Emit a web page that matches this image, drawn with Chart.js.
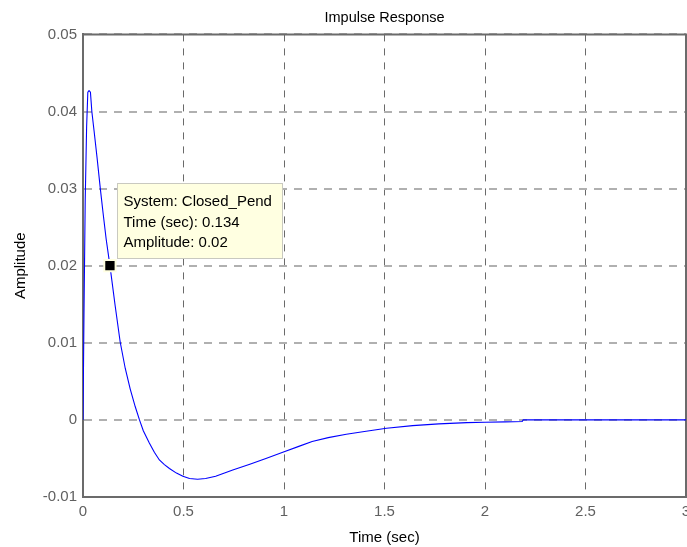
<!DOCTYPE html>
<html>
<head>
<meta charset="utf-8">
<script src="https://cdn.jsdelivr.net/npm/chart.js@4.4.1/dist/chart.umd.min.js"></script>
<style>
  html, body { margin: 0; padding: 0; background: #ffffff; }
  #wrap { width: 687px; height: 547px; position: relative; }
</style>
</head>
<body>
<div id="wrap"><canvas id="c" width="687" height="547"></canvas></div>
<script>
// ---- data ----
const chartTitle = 'Impulse Response';
const xAxisTitle = 'Time (sec)';
const yAxisTitle = 'Amplitude';
const seriesName = 'Closed_Pend';

const timeSec = [0, 0.005, 0.011, 0.018, 0.024, 0.03, 0.037, 0.044, 0.055, 0.07, 0.087, 0.1, 0.115, 0.134, 0.16, 0.185, 0.21, 0.235, 0.26, 0.281, 0.3, 0.33, 0.355, 0.38, 0.405, 0.43, 0.465, 0.497, 0.53, 0.57, 0.61, 0.66, 0.745, 0.83, 0.91, 0.994, 1.077, 1.14, 1.22, 1.31, 1.4, 1.51, 1.64, 1.77, 1.91, 2.0, 2.1, 2.185, 2.19, 2.5, 3.0];
const amplitude = [0, 0.014, 0.0285, 0.038, 0.0425, 0.0427, 0.0425, 0.040, 0.0375, 0.034, 0.0298, 0.0268, 0.0235, 0.020, 0.0148, 0.0101, 0.0067, 0.0040, 0.0017, 0.0, -0.0014, -0.0030, -0.0042, -0.0052, -0.0058, -0.0063, -0.0069, -0.0073, -0.0076, -0.0077, -0.0076, -0.0073, -0.0065, -0.00575, -0.0050, -0.0042, -0.0034, -0.0028, -0.0023, -0.00186, -0.0015, -0.00108, -0.00074, -0.00052, -0.00035, -0.0003, -0.00025, -0.0002, 0, 0, 0];

const tipTime = 0.134;
const tipAmplitude = 0.02;
const tipLines = ['System: ' + seriesName, 'Time (sec): 0.134', 'Amplitude: 0.02'];

const xTickLabels = ['0', '0.5', '1', '1.5', '2', '2.5', '3'];
const yTickLabels = ['-0.01', '0', '0.01', '0.02', '0.03', '0.04', '0.05'];

// ---- build ----
const curve = timeSec.map((t, i) => ({ x: t, y: amplitude[i] }));
const FONT = "'Liberation Sans', Arial, Helvetica, sans-serif";

function zeroSidePadding(s, horizontal) {
  if (horizontal) {
    s.paddingLeft = 0; s.paddingRight = 0;
    if (s._margins) { s._margins.left = 0; s._margins.right = 0; }
  } else {
    s.paddingTop = 0; s.paddingBottom = 0;
    if (s._margins) { s._margins.top = 0; s._margins.bottom = 0; }
  }
}

const framePlugin = {
  id: 'frame',
  beforeDatasetsDraw(chart) {
    const { ctx, chartArea: a } = chart;
    ctx.save();
    ctx.strokeStyle = '#6b6b6b';
    ctx.lineWidth = 2;
    ctx.beginPath();
    ctx.moveTo(a.left, a.top);
    ctx.lineTo(a.right, a.top);
    ctx.lineTo(a.right, a.bottom);
    ctx.stroke();
    ctx.restore();
  }
};

const dataTipPlugin = {
  id: 'datatip',
  afterDatasetsDraw(chart) {
    const { ctx, scales } = chart;
    const px = scales.x.getPixelForValue(tipTime);
    const py = scales.y.getPixelForValue(tipAmplitude);
    const left = Math.round(px + 7) + 0.5;
    const top = Math.round(py - 83) + 0.5;
    const w = 165, h = 75;
    ctx.save();
    ctx.fillStyle = '#ffffe1';
    ctx.fillRect(left, top, w, h);
    ctx.strokeStyle = '#c9c9c0';
    ctx.lineWidth = 1;
    ctx.strokeRect(left, top, w, h);
    ctx.fillStyle = '#000000';
    ctx.font = '15px ' + FONT;
    ctx.textBaseline = 'middle';
    ctx.textAlign = 'left';
    tipLines.forEach((s, i) => ctx.fillText(s, left + 6, top + 18.5 + i * 20.5));
    ctx.restore();
  }
};

new Chart(document.getElementById('c'), {
  type: 'scatter',
  data: {
    datasets: [
      {
        label: seriesName,
        data: curve,
        showLine: true,
        borderColor: '#0000ff',
        borderWidth: 1.1,
        pointRadius: 0,
        pointHoverRadius: 0,
        tension: 0,
        fill: false,
        order: 2
      },
      {
        label: 'tip',
        data: [{ x: tipTime, y: tipAmplitude }],
        showLine: false,
        pointStyle: 'rect',
        pointRadius: 8,
        backgroundColor: '#000000',
        borderColor: '#ffffe1',
        borderWidth: 2,
        order: 1
      }
    ]
  },
  options: {
    responsive: false,
    animation: false,
    devicePixelRatio: 1,
    layout: { autoPadding: false, padding: { left: 0, right: 1, top: 0, bottom: 0 } },
    plugins: {
      legend: { display: false },
      tooltip: { enabled: false },
      title: {
        display: true,
        text: chartTitle,
        fullSize: false,
        color: '#000000',
        font: { family: FONT, size: 14.5, weight: 'normal' },
        padding: { top: 9, bottom: 8 }
      }
    },
    scales: {
      x: {
        type: 'linear',
        min: 0,
        max: 3,
        afterFit(s) { s.height = 50; zeroSidePadding(s, true); },
        ticks: {
          stepSize: 0.5,
          color: '#606060',
          font: { family: FONT, size: 15 },
          padding: 6,
          maxRotation: 0,
          autoSkip: false,
          callback: (v, i) => xTickLabels[i]
        },
        grid: { color: '#6a6a6a', lineWidth: 1, drawTicks: false },
        border: { display: true, color: '#6b6b6b', width: 2, dash: [7, 7] },
        title: {
          display: true,
          text: xAxisTitle,
          color: '#000000',
          font: { family: FONT, size: 15 },
          padding: { top: 0, bottom: 0 }
        }
      },
      y: {
        type: 'linear',
        min: -0.01,
        max: 0.05,
        afterFit(s) { s.width = 83; zeroSidePadding(s, false); },
        ticks: {
          stepSize: 0.01,
          color: '#606060',
          font: { family: FONT, size: 15 },
          padding: 6,
          autoSkip: false,
          callback: (v, i) => yTickLabels[i]
        },
        grid: { color: '#b0b0b0', lineWidth: 2, drawTicks: false },
        border: { display: true, color: '#6b6b6b', width: 2, dash: [8, 7] },
        title: {
          display: true,
          text: yAxisTitle,
          color: '#000000',
          font: { family: FONT, size: 15 },
          padding: { top: 12, bottom: 0 }
        }
      }
    }
  },
  plugins: [framePlugin, dataTipPlugin]
});
</script>
</body>
</html>
